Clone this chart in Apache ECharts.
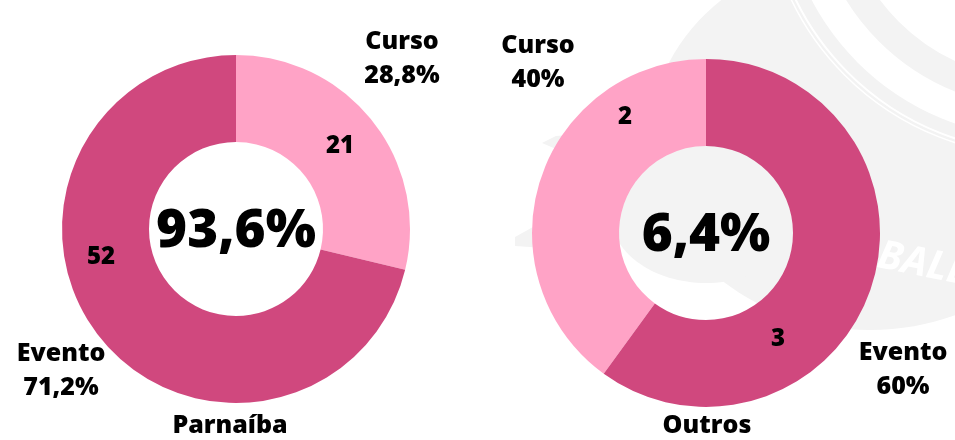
<!DOCTYPE html>
<html>
<head>
<meta charset="utf-8">
<script src="https://cdn.jsdelivr.net/npm/echarts@6/dist/echarts.min.js"></script>
<style>
  html, body { margin: 0; padding: 0; background: #ffffff; }
  #chart { width: 955px; height: 440px; }
</style>
</head>
<body>
<div id="chart"></div>
<script>
// Participação por tipo de atividade, por cidade
const cidades = ['Parnaíba', 'Outros'];
const tipos = ['Curso', 'Evento'];
const cursoQtd = [21, 2];
const eventoQtd = [52, 3];

const corTipo = { Curso: '#FFA3C6', Evento: '#D0487E' };
const FONT = '"Open Sans", "DejaVu Sans", sans-serif';

function pct(v) {
  return v.toFixed(1).replace(/\.0$/, '').replace('.', ',') + '%';
}

const totaisCidade = cidades.map((c, i) => cursoQtd[i] + eventoQtd[i]);
const totalGeral = totaisCidade.reduce((a, b) => a + b, 0);

// layout of each donut
const layout = [
  { center: [236, 229], clockwise: true,
    valuePos: { Curso: [340, 146], Evento: [101, 257] },
    namePos: { Curso: [402, 59], Evento: [61, 371] },
    titlePos: [230, 426] },
  { center: [706, 233], clockwise: false,
    valuePos: { Curso: [625, 117], Evento: [778, 339] },
    namePos: { Curso: [538, 63], Evento: [903, 370] },
    titlePos: [707, 426] }
];

const series = [];
const textEls = [];

cidades.forEach((cidade, i) => {
  const L = layout[i];
  const qtd = { Curso: cursoQtd[i], Evento: eventoQtd[i] };
  const data = tipos.map(t => ({
    name: t,
    value: qtd[t],
    itemStyle: { color: corTipo[t] }
  }));
  const base = {
    type: 'pie',
    center: L.center,
    radius: [87, 174],
    startAngle: 90,
    clockwise: L.clockwise,
    avoidLabelOverlap: false,
    labelLine: { show: false },
    emphasis: { disabled: true },
    animation: false
  };
  // slices with their counts
  series.push(Object.assign({}, base, {
    z: 2,
    data: data,
    itemStyle: { borderWidth: 0 },
    label: {
      show: true,
      position: 'inside',
      formatter: p => String(p.value),
      color: '#000',
      fontFamily: FONT,
      fontWeight: 800,
      fontSize: 24
    },
    labelLayout: p => {
      const pos = L.valuePos[data[p.dataIndex].name];
      return { x: pos[0], y: pos[1], align: 'center', verticalAlign: 'middle' };
    }
  }));
  // name + share labels around the ring
  series.push(Object.assign({}, base, {
    z: 3,
    silent: true,
    data: data.map(d => ({ name: d.name, value: d.value, itemStyle: { color: 'rgba(0,0,0,0)' } })),
    label: {
      show: true,
      position: 'inside',
      formatter: p => p.name + '\n' + pct(p.value / totaisCidade[i] * 100),
      color: '#000',
      fontFamily: FONT,
      fontWeight: 800,
      fontSize: 25,
      lineHeight: 34
    },
    labelLayout: p => {
      const pos = L.namePos[data[p.dataIndex].name];
      return { x: pos[0], y: pos[1], align: 'center', verticalAlign: 'middle' };
    }
  }));
  // share of the city in the total, in the hole
  textEls.push({
    type: 'text', z: 100,
    x: L.center[0], y: L.center[1] + 3,
    style: {
      text: pct(totaisCidade[i] / totalGeral * 100),
      fill: '#000', font: '800 53px ' + FONT,
      align: 'center', verticalAlign: 'middle'
    }
  });
  // city name below the ring
  textEls.push({
    type: 'text', z: 100,
    x: L.titlePos[0], y: L.titlePos[1],
    style: {
      text: cidade,
      fill: '#000', font: '800 25px ' + FONT,
      align: 'center', verticalAlign: 'middle'
    }
  });
});

// faint emblem in the background
const emblem = [
  { type: 'ellipse', z: -10, shape: { cx: 870, cy: 140, rx: 220, ry: 190 }, style: { fill: '#f3f3f3' } },
  { type: 'ellipse', z: -10, shape: { cx: 706, cy: 215, rx: 95, ry: 68 }, style: { fill: '#f3f3f3' } },
  { type: 'circle', z: -9, shape: { cx: 1040, cy: -120, r: 258 }, style: { fill: '#ffffff' } },
  { type: 'circle', z: -8, shape: { cx: 1040, cy: -120, r: 214 }, style: { fill: 'none', stroke: '#f3f3f3', lineWidth: 28 } },
  { type: 'circle', z: -8, shape: { cx: 1040, cy: -120, r: 272 }, style: { fill: 'none', stroke: '#ffffff', lineWidth: 2 } },
  { type: 'circle', z: -8, shape: { cx: 1040, cy: -120, r: 276 }, style: { fill: 'none', stroke: '#ffffff', lineWidth: 1.5 } },
  { type: 'polygon', z: -8, shape: { points: [[542, 143], [556, 136], [580, 134], [572, 150], [556, 149]] }, style: { fill: '#f3f3f3' } },
  { type: 'polygon', z: -8, shape: { points: [[515, 237], [533, 227], [545, 226], [545, 248], [515, 246]] }, style: { fill: '#f3f3f3' } },
  { type: 'text', z: -7, x: 882, y: 236, rotation: -0.2,
    style: { text: 'BALL', fill: '#ffffff', font: 'italic 700 40px ' + FONT, align: 'left', verticalAlign: 'top' } }
];

const chart = echarts.init(document.getElementById('chart'), null, { renderer: 'canvas' });
chart.setOption({
  backgroundColor: '#ffffff',
  animation: false,
  graphic: { elements: emblem.concat(textEls) },
  series: series
});
</script>
</body>
</html>
